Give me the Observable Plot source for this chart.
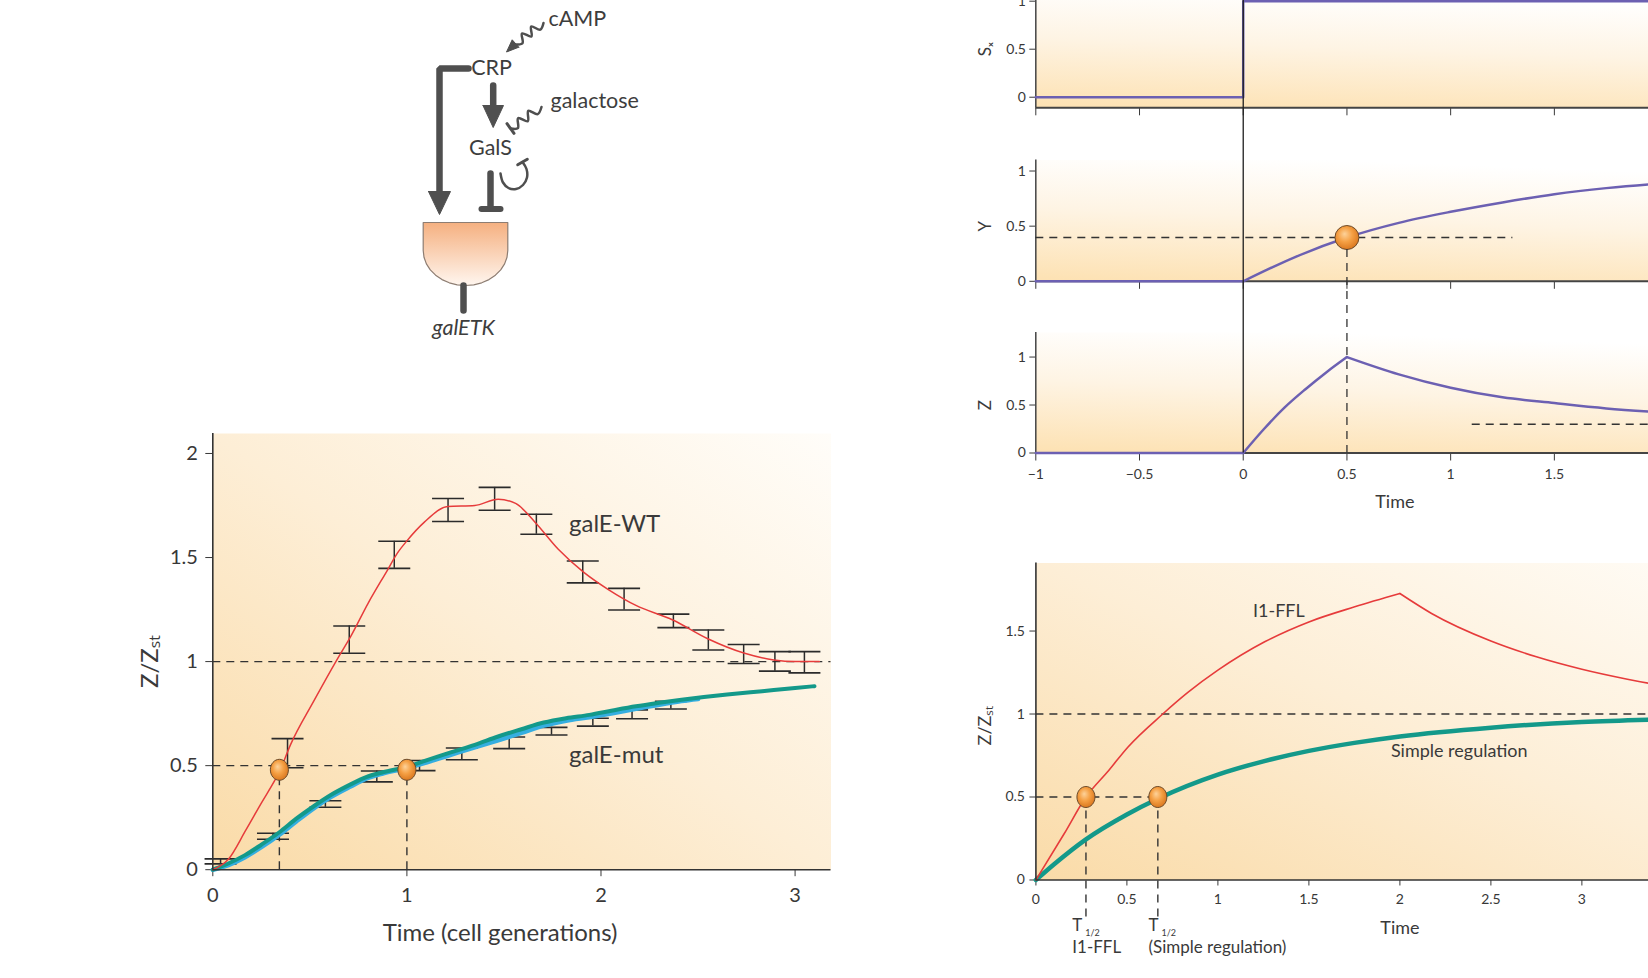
<!DOCTYPE html>
<html><head><meta charset="utf-8">
<script src="https://cdn.jsdelivr.net/npm/d3@7"></script>
<script src="https://cdn.jsdelivr.net/npm/@observablehq/plot@0.6"></script>
<style>
html,body{margin:0;padding:0;background:#fff;overflow:hidden}
#root{position:relative;width:1648px;height:978px;overflow:hidden;background:#fff}
</style></head><body>
<div id="root">
<svg width="0" height="0" style="position:absolute;left:0;top:0">
<defs>
<linearGradient id="bgDiag" x1="0" y1="1" x2="1" y2="0">
<stop offset="0" stop-color="#fadba8"/><stop offset="0.5" stop-color="#fdeed6"/><stop offset="1" stop-color="#fffdf9"/>
</linearGradient>
<linearGradient id="bgTop" x1="0.1" y1="1" x2="0.35" y2="0">
<stop offset="0" stop-color="#fde2b4"/><stop offset="0.55" stop-color="#fef4e4"/><stop offset="1" stop-color="#ffffff"/>
</linearGradient>
<radialGradient id="dotGrad" cx="0.45" cy="0.42" r="0.6" fx="0.4" fy="0.35">
<stop offset="0" stop-color="#fdd29a"/><stop offset="0.5" stop-color="#f5a044"/><stop offset="1" stop-color="#d9761e"/>
</radialGradient>
<linearGradient id="gateGrad" x1="0" y1="0" x2="0" y2="1">
<stop offset="0" stop-color="#f5b080"/><stop offset="1" stop-color="#fff6ef"/>
</linearGradient>
</defs>
</svg>
</div>
<script>
// ================= DATA =================
// --- Bottom-left: galE experiment ---
const blXTicks = [0, 1, 2, 3];
const blYTicks = [0, 0.5, 1, 1.5, 2];
const galEWT = [[0,0],[0.08,0.05],[0.17,0.19],[0.25,0.32],[0.32,0.43],[0.343,0.47],[0.40,0.60],[0.52,0.81],[0.64,1.01],[0.71,1.12],[0.80,1.28],[0.90,1.44],[0.95,1.52],[1.0,1.58],[1.09,1.67],[1.21,1.745],[1.35,1.75],[1.47,1.78],[1.56,1.76],[1.66,1.67],[1.78,1.54],[1.91,1.43],[2.04,1.345],[2.18,1.27],[2.37,1.20],[2.55,1.11],[2.74,1.04],[2.89,1.008],[3.0,1.0],[3.125,1.0]];
const galEWTErr = [[0.04,0.028,0.052],[0.385,0.49,0.63],[0.703,1.04,1.171],[0.935,1.448,1.578],[1.212,1.673,1.784],[1.452,1.727,1.837],[1.667,1.612,1.708],[1.906,1.378,1.483],[2.119,1.248,1.352],[2.373,1.163,1.228],[2.553,1.056,1.152],[2.735,0.991,1.082],[2.896,0.954,1.048],[3.048,0.946,1.048]];
const galEMutFit = [[0,0],[0.08,0.03],[0.166,0.07],[0.25,0.12],[0.343,0.18],[0.43,0.245],[0.52,0.305],[0.61,0.36],[0.71,0.41],[0.79,0.445],[0.876,0.468],[1.0,0.495],[1.1,0.525],[1.23,0.565],[1.35,0.60],[1.47,0.64],[1.59,0.675],[1.705,0.707],[1.82,0.728],[1.94,0.744],[2.06,0.765],[2.18,0.785],[2.3,0.802],[2.415,0.817],[2.53,0.83],[2.65,0.842],[2.77,0.853],[2.89,0.863],[3.0,0.873],[3.10,0.882]];
const galEMutData = [[0,0],[0.08,0.022],[0.166,0.06],[0.25,0.108],[0.343,0.168],[0.43,0.232],[0.52,0.295],[0.61,0.35],[0.71,0.4],[0.79,0.437],[0.876,0.462],[1.0,0.488],[1.1,0.515],[1.23,0.553],[1.35,0.588],[1.47,0.622],[1.59,0.657],[1.705,0.692],[1.82,0.716],[1.94,0.733],[2.06,0.752],[2.18,0.773],[2.3,0.793],[2.415,0.81],[2.5,0.82]];
const galEMutErr = [[0.31,0.146,0.175],[0.58,0.30,0.331],[0.845,0.422,0.474],[1.065,0.476,0.525],[1.283,0.528,0.585],[1.527,0.582,0.638],[1.745,0.647,0.684],[1.958,0.69,0.728],[2.16,0.725,0.768],[2.36,0.772,0.809]];
const blSteady = 1;
const blHalfLevel = 0.5;
const blHalfTimes = [0.343, 1.0];
const blDotLevel = 0.48;
const blLabels = [{x: 1.835, y: 1.662, text: "galE-WT"}, {x: 1.835, y: 0.551, text: "galE-mut"}];

// --- Top-right: stacked S_x, Y, Z panels ---
const topXTicks = [-1, -0.5, 0, 0.5, 1, 1.5, 2, 2.5, 3];
const topYTicks = [0, 0.5, 1];
const sxSignal = [[-1,0],[0,0],[0,1],[3,1]];
const yFlat = [[-1,0],[0,0]];
const yRise = [[0,0],[0.25,0.22],[0.5,0.397],[0.75,0.53],[1,0.63],[1.25,0.715],[1.5,0.79],[1.75,0.845],[2,0.885],[2.5,0.93],[3,0.96]];
const zFlat = [[-1,0],[0,0]];
const zRise = [[0,0],[0.1,0.25],[0.2,0.475],[0.3,0.665],[0.4,0.84],[0.5,1.0]];
const zDecay = [[0.5,1.0],[0.75,0.82],[1,0.68],[1.25,0.58],[1.5,0.52],[1.75,0.465],[2,0.425],[2.5,0.37],[3,0.34]];
const yThreshold = 0.397, yThresholdEnd = 1.3, yCrossT = 0.5;
const zSteady = 0.3, zSteadyStart = 1.104, zSteadyEnd = 3;

// --- Bottom-right: I1-FFL vs simple regulation ---
const brXTicks = [0, 0.5, 1, 1.5, 2, 2.5, 3, 3.5];
const brYTicks = [0, 0.5, 1, 1.5];
const fflRise = [[0,0],[0.156,0.28],[0.275,0.5],[0.4,0.66],[0.505,0.8],[0.697,1.0],[0.835,1.13],[1,1.264],[1.257,1.435],[1.5,1.555],[1.752,1.646],[2,1.726]];
const fflDecay = [[2,1.726],[2.174,1.606],[2.5,1.44],[2.75,1.345],[3,1.27],[3.25,1.21],[3.5,1.16],[3.75,1.12]];
const simpleReg = [[0,0],[0.1,0.095],[0.275,0.245],[0.5,0.395],[0.67,0.49],[1,0.635],[1.25,0.715],[1.5,0.778],[1.75,0.826],[2,0.865],[2.5,0.918],[3,0.952],[3.5,0.97],[3.75,0.976]];
const brSteady = 1, brHalfLevel = 0.5;
const brHalfTimes = [0.275, 0.67];
const brLeaderEnd = -0.244;
const brLabels = [{x: 1.335, y: 1.62, text: "I1-FFL"}, {x: 2.326, y: 0.778, text: "Simple regulation"}];
const brHalfLabels = [{x: 0.2, sub: "I1-FFL"}, {x: 0.619, sub: "(Simple regulation)"}];

// --- Top-left: regulatory diagram (page coordinates) ---
const diagThick = [
  {id: "bracket", pts: [[468,68],[439,68],[439,194]]},
  {id: "crp-gals", pts: [[492.7,85],[492.7,108]]},
  {id: "gals-rep", pts: [[490,173],[490,207]]},
  {id: "stem", pts: [[463,285],[463,310]]}
];
const diagBars = [
  {id: "galsbar", pts: [[481,208.5],[500,208.5]]}
];
const diagHeads = [
  {id: "h1", pts: [[428,191],[450,191],[439,214],[428,191]]},
  {id: "h2", pts: [[482.5,105],[503,105],[492.7,127],[482.5,105]]},
  {id: "h3", pts: [[518.3,46.7],[506,51.5],[511.7,39.3],[518.3,46.7]]}
];
const diagSquiggles = [
  {id: "camp", pts: [[543,22.5],[539.8,29.2],[530.7,26.1],[530.9,35.9],[521.5,33.0],[522.0,42.7],[514,44]]},
  {id: "galactose", pts: [[541,106.5],[537.2,113.6],[527.8,110.4],[527.3,120.7],[517.6,117.7],[517.4,127.7],[510,128]]},
  {id: "selfloop", pts: [[500,173],[502.5,182],[508,187.5],[515.5,188.5],[522.5,184.5],[526.5,177],[526,168.5],[522,161.5]]}
];
const diagThinBars = [
  {id: "galbar", pts: [[506.5,123.1],[513.5,132.9]]},
  {id: "loopbar", pts: [[517.2,164.2],[526.8,158.8]]}
];
const gateOutline = [[422.7,222],[507.3,222],[507.3,250],[506.5,256.8],[504.1,263.4],[500.2,269.4],[494.9,274.7],[488.5,279.1],[481.2,282.3],[473.3,284.3],[465,285],[456.7,284.3],[448.8,282.3],[441.5,279.1],[435.1,274.7],[429.8,269.4],[425.9,263.4],[423.5,256.8],[422.7,250],[422.7,222]];
const diagLabelsStart = [
  {x: 548, y: 19, text: "cAMP"},
  {x: 550, y: 101, text: "galactose"}
];
const diagLabelsMiddle = [
  {x: 491, y: 68, text: "CRP"},
  {x: 490, y: 148, text: "GalS"}
];
const diagGeneLabel = [{x: 463, y: 328, text: "galETK"}];

// ================= HELPERS =================
const root = document.getElementById("root");
const FONT = "Lato, 'Open Sans', sans-serif";
const base = {background: "transparent", overflow: "visible", fontFamily: FONT, color: "#383838"};
const ink = "#333";
const purple = "#6c60b2";
const red = "#e63b3b";
const teal = "#13998a";
const blue = "#35aee0";
const dash = "8,6";
const fmt = d => d < 0 ? "\u2212" + Math.abs(d) : String(d);
const X = d => d[0], Y = d => d[1];
const flat = list => list.flatMap(s => s.pts.map(p => ({id: s.id, x: p[0], y: p[1]})));

const ellipse = {draw(ctx, size) {
  const r = Math.sqrt(size / Math.PI), rx = r * 0.86, ry = r, k = 0.5523;
  ctx.moveTo(rx, 0);
  ctx.bezierCurveTo(rx, ry * k, rx * k, ry, 0, ry);
  ctx.bezierCurveTo(-rx * k, ry, -rx, ry * k, -rx, 0);
  ctx.bezierCurveTo(-rx, -ry * k, -rx * k, -ry, 0, -ry);
  ctx.bezierCurveTo(rx * k, -ry, rx, -ry * k, rx, 0);
  ctx.closePath();
}};
const circleSym = {draw(ctx, size) {
  const r = Math.sqrt(size / Math.PI);
  ctx.moveTo(r, 0); ctx.arc(0, 0, r, 0, 2 * Math.PI); ctx.closePath();
}};
const cap = {draw(ctx) { ctx.moveTo(-16, 0); ctx.lineTo(16, 0); }};

function place(svg, left, top) {
  svg.style.position = "absolute";
  svg.style.left = left + "px";
  svg.style.top = top + "px";
  svg.style.maxWidth = "none";
  root.appendChild(svg);
}

// ================= DIAGRAM =================
const diag = Plot.plot({
  width: 280, height: 345, marginLeft: 0, marginRight: 0, marginTop: 0, marginBottom: 0,
  style: {...base, fontSize: "21px"},
  x: {domain: [380, 660], axis: null},
  y: {domain: [0, 345], range: [0, 345], axis: null},
  marks: [
    Plot.line(gateOutline, {x: X, y: Y, fill: "url(#gateGrad)", stroke: "#8d7d72", strokeWidth: 1.2}),
    Plot.line(flat(diagThick), {x: "x", y: "y", z: "id", stroke: "#4f4f4f", strokeWidth: 6.5, strokeLinejoin: "miter"}),
    Plot.line(flat(diagBars), {x: "x", y: "y", z: "id", stroke: "#4f4f4f", strokeWidth: 6}),
    Plot.line(flat(diagHeads), {x: "x", y: "y", z: "id", fill: "#4f4f4f", stroke: "#4f4f4f", strokeWidth: 1}),
    Plot.line(flat(diagSquiggles), {x: "x", y: "y", z: "id", stroke: "#4f4f4f", strokeWidth: 2.5, curve: "catmull-rom"}),
    Plot.line(flat(diagThinBars), {x: "x", y: "y", z: "id", stroke: "#4f4f4f", strokeWidth: 3}),
    Plot.text(diagLabelsStart, {x: "x", y: "y", text: "text", textAnchor: "start", fontSize: 21.5, fill: "#3d3d3d"}),
    Plot.text(diagLabelsMiddle, {x: "x", y: "y", text: "text", textAnchor: "middle", fontSize: 21.5, fill: "#3d3d3d"}),
    Plot.text(diagGeneLabel, {x: "x", y: "y", text: "text", textAnchor: "middle", fontStyle: "italic", fontSize: 21.5, fill: "#3d3d3d"})
  ]
});

// ================= BOTTOM-LEFT =================
const bl = Plot.plot({
  width: 860, height: 560, marginLeft: 212.3, marginRight: 29.5, marginTop: 33, marginBottom: 90.8,
  style: {...base, fontSize: "20px"},
  x: {domain: [0, 3.185], ticks: blXTicks, tickSize: 7, tickPadding: 11, tickFormat: fmt, label: null},
  y: {domain: [0, 2.096], ticks: blYTicks, tickSize: 7, tickPadding: 8, tickFormat: fmt, label: null},
  marks: [
    Plot.frame({fill: "url(#bgDiag)", stroke: "none"}),
    Plot.ruleY([blSteady], {stroke: ink, strokeWidth: 1.4, strokeDasharray: dash}),
    Plot.ruleY([blHalfLevel], {x1: 0, x2: blHalfTimes[1], stroke: ink, strokeWidth: 1.4, strokeDasharray: dash}),
    Plot.ruleX(blHalfTimes, {x: d => d, y1: 0, y2: blHalfLevel, stroke: ink, strokeWidth: 1.4, strokeDasharray: dash}),
    Plot.ruleX(galEWTErr, {x: X, y1: d => d[1], y2: d => d[2], stroke: "#2b2b2b", strokeWidth: 1.5}),
    Plot.dot(galEWTErr, {x: X, y: d => d[1], symbol: cap, fill: "none", stroke: "#2b2b2b", strokeWidth: 1.6}),
    Plot.dot(galEWTErr, {x: X, y: d => d[2], symbol: cap, fill: "none", stroke: "#2b2b2b", strokeWidth: 1.6}),
    Plot.ruleX(galEMutErr, {x: X, y1: d => d[1], y2: d => d[2], stroke: "#2b2b2b", strokeWidth: 1.5}),
    Plot.dot(galEMutErr, {x: X, y: d => d[1], symbol: cap, fill: "none", stroke: "#2b2b2b", strokeWidth: 1.6}),
    Plot.dot(galEMutErr, {x: X, y: d => d[2], symbol: cap, fill: "none", stroke: "#2b2b2b", strokeWidth: 1.6}),
    Plot.line(galEMutData, {x: X, y: Y, stroke: blue, strokeWidth: 4.5, curve: "monotone-x"}),
    Plot.line(galEMutFit, {x: X, y: Y, stroke: teal, strokeWidth: 4, curve: "monotone-x"}),
    Plot.line(galEWT, {x: X, y: Y, stroke: red, strokeWidth: 1.5, curve: "monotone-x"}),
    Plot.ruleX([0], {stroke: ink, strokeWidth: 1.6}),
    Plot.ruleY([0], {stroke: ink, strokeWidth: 1.6}),
    Plot.dot(blHalfTimes, {x: d => d, y: blDotLevel, r: 10.5, symbol: ellipse, fill: "url(#dotGrad)", stroke: "#6b4a2a", strokeWidth: 1}),
    Plot.text(blLabels, {x: "x", y: "y", text: "text", textAnchor: "start", fontSize: 24, fill: "#3a3a3a"}),
    Plot.text(["Time (cell generations)"], {x: 1.48, frameAnchor: "bottom", dy: 71, text: d => d, fontSize: 24, fill: "#3a3a3a"}),
    Plot.text(["Z/Z\u209B\u209C"], {x: 0, y: 1, text: d => d, rotate: -90, dx: -62, fontSize: 24, fill: "#3a3a3a"})
  ]
});

// ================= TOP-RIGHT PANELS =================
function topPanel(o) {
  return Plot.plot({
    width: 910, height: o.height, marginLeft: 75.3, marginRight: 5, marginTop: o.mt, marginBottom: o.mb,
    style: {...base, fontSize: "14px"},
    x: {domain: [-1, 3], ticks: topXTicks, tickSize: 8, tickPadding: 8, tickFormat: o.xLabels ? fmt : () => "", label: null},
    y: {domain: o.yDomain, ticks: topYTicks, tickSize: 6, tickPadding: 4, tickFormat: fmt, label: null},
    marks: [
      Plot.frame({fill: "url(#bgTop)", stroke: "none"}),
      Plot.ruleY([o.yDomain[0]], {stroke: "#444", strokeWidth: 2}),
      Plot.ruleX([-1], {stroke: "#444", strokeWidth: 1.5}),
      ...o.marks,
      Plot.text([o.label], {x: -1, y: 0.5, text: d => d, rotate: -90, dx: -50, fontSize: 17, fill: "#3a3a3a"})
    ]
  });
}
const sxDomain = [-0.11, 1.1];
const sxPlot = topPanel({height: 158.3, mt: 22.1, mb: 20, yDomain: sxDomain, label: "S\u2093", marks: [
  Plot.line(sxSignal, {x: X, y: Y, stroke: purple, strokeWidth: 2.5})
]});
const yPlot = topPanel({height: 160.8, mt: 19.5, mb: 20, yDomain: [0, 1.1], label: "Y", marks: [
  Plot.ruleY([yThreshold], {x1: -1, x2: yThresholdEnd, stroke: ink, strokeWidth: 1.4, strokeDasharray: dash}),
  Plot.line(yFlat, {x: X, y: Y, stroke: purple, strokeWidth: 2.5}),
  Plot.line(yRise, {x: X, y: Y, stroke: purple, strokeWidth: 2.5, curve: "monotone-x"}),
  Plot.dot([yCrossT], {x: d => d, y: yThreshold, r: 12, symbol: circleSym, fill: "url(#dotGrad)", stroke: "#6b4a2a", strokeWidth: 1})
]});
const zPlot = topPanel({height: 517.5, mt: 332, mb: 65, yDomain: [0, 1.256], label: "Z", xLabels: true, marks: [
  Plot.ruleY([zSteady], {x1: zSteadyStart, x2: zSteadyEnd, stroke: ink, strokeWidth: 1.4, strokeDasharray: dash}),
  Plot.ruleX([yCrossT], {stroke: ink, strokeWidth: 1.3, strokeDasharray: dash, insetTop: -83}),
  Plot.line(zFlat, {x: X, y: Y, stroke: purple, strokeWidth: 2.5}),
  Plot.line(zRise, {x: X, y: Y, stroke: purple, strokeWidth: 2.5, curve: "monotone-x"}),
  Plot.line(zDecay, {x: X, y: Y, stroke: purple, strokeWidth: 2.5, curve: "monotone-x"}),
  Plot.ruleX([0], {stroke: "#1e1e1e", strokeWidth: 1.3, insetTop: -332}),
  Plot.text(["Time"], {x: 0.731, frameAnchor: "bottom", dy: 55, text: d => d, fontSize: 18, fill: "#3a3a3a"})
]});

// ================= BOTTOM-RIGHT =================
const br = Plot.plot({
  width: 808.4, height: 448, marginLeft: 75.4, marginRight: 5, marginTop: 32.5, marginBottom: 98.5,
  style: {...base, fontSize: "14px"},
  x: {domain: [0, 4], ticks: brXTicks, tickSize: 6, tickPadding: 8, tickFormat: fmt, label: null},
  y: {domain: [0, 1.91], ticks: brYTicks, tickSize: 6, tickPadding: 5, tickFormat: fmt, label: null},
  marks: [
    Plot.frame({fill: "url(#bgDiag)", stroke: "none"}),
    Plot.ruleY([brSteady], {stroke: ink, strokeWidth: 1.4, strokeDasharray: dash}),
    Plot.ruleY([brHalfLevel], {x1: 0, x2: brHalfTimes[1], stroke: ink, strokeWidth: 1.4, strokeDasharray: dash}),
    Plot.ruleX(brHalfTimes, {x: d => d, y1: brHalfLevel, y2: brLeaderEnd, stroke: ink, strokeWidth: 1.4, strokeDasharray: dash}),
    Plot.line(simpleReg, {x: X, y: Y, stroke: teal, strokeWidth: 4.5, curve: "monotone-x"}),
    Plot.line(fflRise, {x: X, y: Y, stroke: red, strokeWidth: 1.6, curve: "monotone-x"}),
    Plot.line(fflDecay, {x: X, y: Y, stroke: red, strokeWidth: 1.6, curve: "monotone-x"}),
    Plot.ruleX([0], {stroke: ink, strokeWidth: 1.6}),
    Plot.ruleY([0], {stroke: ink, strokeWidth: 1.6}),
    Plot.dot(brHalfTimes, {x: d => d, y: brHalfLevel, r: 10.5, symbol: ellipse, fill: "url(#dotGrad)", stroke: "#6b4a2a", strokeWidth: 1}),
    Plot.text(brLabels, {x: "x", y: "y", text: "text", fontSize: 18, fill: "#3a3a3a"}),
    Plot.text(["Time"], {x: 2.0, frameAnchor: "bottom", dy: 54, text: d => d, fontSize: 18, fill: "#3a3a3a"}),
    Plot.text(["Z/Z\u209B\u209C"], {x: 0, y: 0.93, text: d => d, rotate: -90, dx: -51, fontSize: 18, fill: "#3a3a3a"}),
    Plot.text(brHalfLabels, {x: "x", text: () => "T", frameAnchor: "bottom", dy: 51, textAnchor: "start", fontSize: 17, fill: "#3a3a3a"}),
    Plot.text(brHalfLabels, {x: "x", text: () => "1/2", frameAnchor: "bottom", dy: 56.5, dx: 13, textAnchor: "start", fontSize: 9, fill: "#3a3a3a"}),
    Plot.text(brHalfLabels, {x: "x", text: "sub", frameAnchor: "bottom", dy: 73.5, textAnchor: "start", fontSize: 17, fill: "#3a3a3a"})
  ]
});

place(bl, 0, 400);
place(diag, 380, 0);
place(br, 960, 530);
place(sxPlot, 960, -31);
place(yPlot, 960, 140);
place(zPlot, 960, 0);
</script>
</body></html>
